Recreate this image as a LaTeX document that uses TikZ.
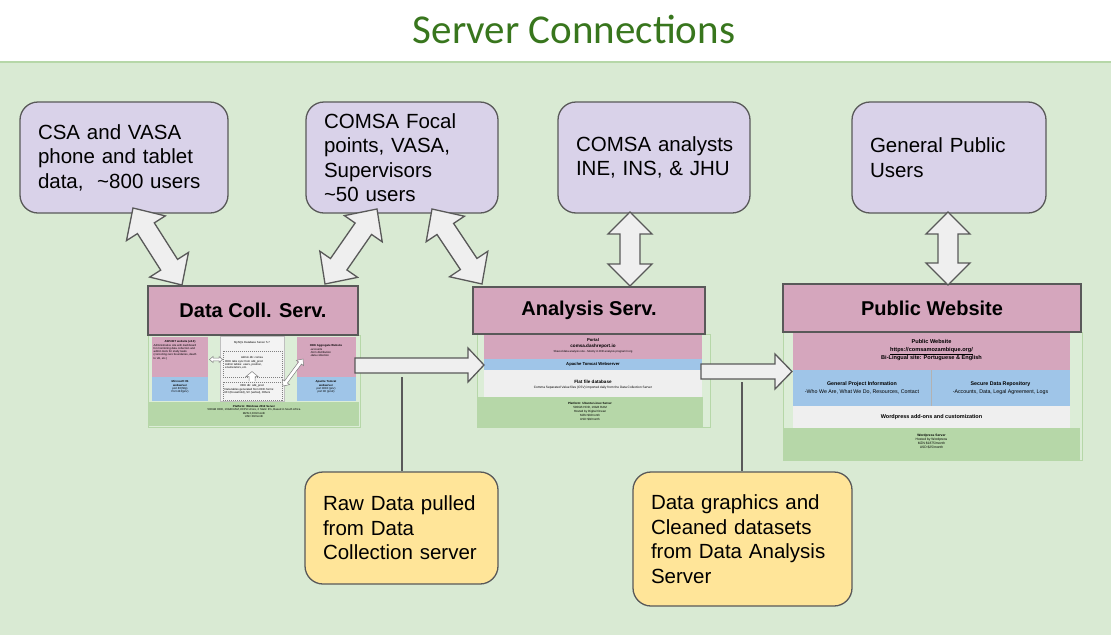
\documentclass[tikz,border=0pt]{standalone}
\usepackage{fontspec}
\setmainfont{Liberation Sans}
\newfontfamily\titlefont{Carlito}
\usetikzlibrary{calc}
\definecolor{bandgreen}{HTML}{D9EAD3}
\definecolor{bandline}{HTML}{B6D7A8}
\definecolor{titlegreen}{HTML}{38761D}
\definecolor{lav}{HTML}{D9D2E9}
\definecolor{edgegray}{HTML}{595959}
\definecolor{pinkbar}{HTML}{D5A6BD}
\definecolor{lightblue}{HTML}{9FC5E8}
\definecolor{lightgray}{HTML}{EFEFEF}
\definecolor{panelgray}{HTML}{F3F3F3}
\definecolor{midgreen}{HTML}{B6D7A8}
\definecolor{notey}{HTML}{FFE599}
\definecolor{framegreen}{HTML}{DCEDD7}
\newcommand\fs[2]{\fontsize{#1}{#2}\selectfont}
\newcommand\rbox[7]{%
 \pgfmathsetmacro\bw{#4-#2}\pgfmathsetmacro\bh{#5-#3}\pgfmathsetmacro\bt{#4-#2-36}%
 \pgfmathsetmacro\cx{(#2+#4)/2}\pgfmathsetmacro\cy{(#3+#5)/2}%
 \node[#6, minimum width=\bw pt, minimum height=\bh pt, text width=\bt pt] (#1) at (\cx,\cy) {#7};}
\newcommand\blk[7]{%
 \pgfmathsetmacro\bw{#4-#2}\pgfmathsetmacro\bh{#5-#3}%
 \pgfmathsetmacro\cx{(#2+#4)/2}\pgfmathsetmacro\cy{(#3+#5)/2}%
 \node[inner sep=0pt, outer sep=0pt, minimum width=\bw pt, minimum height=\bh pt, align=center, #6] (#1) at (\cx,\cy) {#7};}
\newcommand\dblarrow[8][]{%
 \pgfmathsetmacro\dbang{atan2(-(#5-#3),#4-#2)}%
 \pgfmathsetmacro\dblen{veclen(#4-#2,#5-#3)}%
 \begin{scope}[shift={(#2,#3)},rotate=\dbang]
 \draw[blockarr,#1] (0pt,0pt) -- (#7pt,#6pt) -- (#7pt,#8pt) -- (\dblen pt-#7pt,#8pt) -- (\dblen pt-#7pt,#6pt) -- (\dblen pt,0pt) -- (\dblen pt-#7pt,-#6pt) -- (\dblen pt-#7pt,-#8pt) -- (#7pt,-#8pt) -- (#7pt,-#6pt) -- cycle;
 \end{scope}}
\newcommand\oneline[1]{\mbox{#1}}
\hbadness=10000 \hfuzz=200pt
\begin{document}
\begin{tikzpicture}[x=1pt,y=-1pt,
  userbox/.style={draw=edgegray, line width=1.3pt, fill=lav, rounded corners=18pt, align=left, inner xsep=18pt, inner ysep=0pt, font=\fs{20.5}{24.5}},
  notebox/.style={userbox, fill=notey},
  titlebar/.style={draw=edgegray, line width=1.8pt, fill=pinkbar, font=\fs{20}{24}\bfseries},
  frame/.style={fill=framegreen, draw=bandline, line width=0.6pt},
  blockarr/.style={draw=edgegray, fill=lightgray, line width=1.3pt, line join=miter},
  smallarr/.style={draw=gray, fill=white, line width=0.5pt},
  link/.style={draw=edgegray, line width=1.4pt},
  tiny/.style={inner sep=0pt, font=\fs{2.8}{3.2}},
  dashbox/.style={draw=gray, dash pattern=on 1pt off 1pt, line width=0.3pt}]
\useasboundingbox (0,0) rectangle (1111,635);
\fill[white] (0,0) rectangle (1111,635);
\fill[bandgreen] (0,62) rectangle (1111,635);
\draw[bandline, line width=1.5pt] (0,62) -- (1111,62);
\node[text=titlegreen, font=\titlefont\fs{41}{41}] (title) at (574,29) {Server Connections};

% user boxes
\rbox{u1}{20}{102}{228}{213}{userbox}{\oneline{CSA and VASA}\\\oneline{phone and tablet}\\\oneline{data,\ \ \textasciitilde800 users}}
\rbox{u2}{306}{102}{498}{213}{userbox}{\oneline{COMSA Focal}\\\oneline{points, VASA,}\\\oneline{Supervisors}\\\oneline{\textasciitilde50 users}}
\rbox{u3}{558}{102}{750}{213}{userbox}{\oneline{COMSA analysts}\\\oneline{INE, INS, \& JHU}}
\rbox{u4}{852}{102}{1046}{213}{userbox}{\oneline{General Public}\\\oneline{Users}}

% notes
\rbox{n1}{305}{472}{498}{584}{notebox}{\oneline{Raw Data pulled}\\\oneline{from Data}\\\oneline{Collection server}}
\rbox{n2}{633}{472}{852}{606}{notebox}{\oneline{Data graphics and}\\\oneline{Cleaned datasets}\\\oneline{from Data Analysis}\\\oneline{Server}}

% ===== Data Collection Server =====
\blk{dcf}{148}{335}{360}{427}{frame}{}
\blk{dcpk}{152}{337}{208}{377}{fill=pinkbar}{}
\blk{dcbl}{152}{377}{208}{401}{fill=lightblue}{}
\blk{dcmy}{220}{336}{284}{401}{fill=panelgray, draw=gray!50, line width=0.4pt}{}
\blk{dcpk2}{297}{337}{356}{377}{fill=pinkbar}{}
\blk{dcbl2}{297}{377}{356}{401}{fill=lightblue}{}
\blk{dcgr}{149}{402}{359}{426}{fill=midgreen}{}
\blk{dcd1}{223}{351}{282}{377}{dashbox}{}
\blk{dcd2}{223}{382}{282}{400}{dashbox}{}
\node[titlebar, minimum width=210pt, minimum height=49pt] (dcs) at (253,310.5) {Data Coll. Serv.};

\node[tiny, align=center] (t1) at (180,342) {\textbf{ASP.NET website (v4.0)}};
\node[tiny, align=left, anchor=north west] (t2) at (153.5,344) {Administrative site with dashboard\\for monitoring data collection and\\admin tools for study tasks\\(correcting zero boundaries, death\\to VA, etc.)};
\node[tiny, align=center] (t3) at (180,387) {\textbf{Microsoft IIS}\\\textbf{webserver}\\port 80(http)\\Port 443(priv)};
\node[tiny, align=center] (t4) at (252,343) {MySQL Database Server 5.7};
\node[tiny, align=center] (t5) at (252,357.5) {Admin db: comsa};
\node[tiny, align=left, anchor=north west] (t6) at (225,360) {ODK tabs sync from odk\_prod\\Admin tables: users, position,\\enumerators, etc.};
\node[tiny, align=center] (t7) at (252,386) {ODK db: odk\_prod};
\node[tiny, align=left, anchor=north west] (t8) at (224.5,388.5) {Data tables generated from ODK forms:\\RH (Household), SV (verbal), Others};
\node[tiny, align=center] (t9) at (326,345.5) {\textbf{ODK Aggregate Website}};
\node[tiny, align=left, anchor=north west] (t10) at (310,348) {-accounts\\-form distribution\\-data collection};
\node[tiny, align=center] (t11) at (326,387) {\textbf{Apache Tomcat}\\\textbf{webserver}\\port 8080 (priv)\\port 80 (prod)};
\node[tiny, align=center] (t12) at (254,411.5) {\textbf{Platform: Windows 2012 Server}\\500GB HDD, 16GB RAM, 8CPU vCore, 2 Static IPs, Based in South Africa\\MZN 2,000/month\\USD 30/month};
\draw[smallarr] (249,381) -- (249,376.5) -- (246,376.5) -- (252,371.5) -- (258,376.5) -- (255,376.5) -- (255,381);
\dblarrow[smallarr]{209.5}{359.5}{222.5}{359.5}{3}{3.5}{1.3}
\dblarrow[smallarr]{283}{386}{303}{359}{4.5}{5}{1.8}

% ===== Analysis Server =====
\blk{af}{477}{334}{710}{427}{frame}{}
\blk{apk}{484}{334}{702}{359}{fill=pinkbar}{}
\blk{abl}{484}{359}{702}{370}{fill=lightblue}{}
\blk{agy}{484}{370}{702}{397}{fill=lightgray}{}
\blk{agr}{477}{397}{703}{427}{fill=midgreen}{}
\node[titlebar, minimum width=232pt, minimum height=47pt] (as) at (589,310.5) {Analysis Serv.};
\node[inner sep=0pt, font=\fs{4.2}{5}\bfseries] (a1) at (593,339.5) {Portal};
\node[inner sep=0pt, font=\fs{4.6}{5}\bfseries] (a2) at (593,346) {comsa.dashreport.io};
\node[tiny] (a3) at (593,351.5) {Shared data analysis site - Mostly in R/R analysis program/r.org};
\node[inner sep=0pt, font=\fs{4.2}{5}\bfseries] (a4) at (593,364.5) {Apache Tomcat Webserver};
\node[inner sep=0pt, font=\fs{4.6}{5}\bfseries] (a5) at (593,382) {Flat file database};
\node[inner sep=0pt, font=\fs{3.2}{4}] (a6) at (593,388) {Comma Separated Value files (CSV) imported daily from the Data Collection Server};
\node[inner sep=0pt, align=center, font=\fs{3}{4.2}] (a7) at (590,411.5) {\textbf{Platform: Ubuntu Linux Server}\\500GB HDD, 16GB RAM\\Hosted by Digital Ocean\\MZN \$0/month\\USD \$0/month};

% ===== Public Website =====
\blk{pf}{783}{332}{1082}{460}{frame}{}
\blk{ppk}{793}{332}{1070}{370}{fill=pinkbar}{}
\blk{pbl1}{793}{370}{931}{406}{fill=lightblue}{}
\blk{pbl2}{931}{370}{1070}{406}{fill=lightblue}{}
\draw[gray!60, line width=0.5pt] (pbl1.north east) -- (pbl1.south east);
\blk{pgy}{793}{406}{1070}{428}{fill=lightgray}{}
\blk{pgr}{783}{428}{1080}{460}{fill=midgreen}{}
\node[titlebar, minimum width=298pt, minimum height=48pt] (ps) at (932,308) {Public Website};
\node[inner sep=0pt, align=center, font=\fs{5.6}{7.6}\bfseries] (p1) at (931.5,350) {Public Website\\\underline{https://comsamozambique.org/}\\Bi-Lingual site: Portuguese \& English};
\node[inner sep=0pt, align=center, font=\fs{5.3}{7.6}] (p2) at (862,388) {\textbf{General Project Information}\\-Who We Are, What We Do, Resources, Contact};
\node[inner sep=0pt, align=center, font=\fs{5.3}{7.6}] (p3) at (1000.5,388) {\textbf{Secure Data Repository}\\-Accounts, Data, Legal Agreement, Logs};
\node[inner sep=0pt, font=\fs{5.5}{7}\bfseries] (p4) at (931.5,417) {Wordpress add-ons and customization};
\node[inner sep=0pt, align=center, font=\fs{3.3}{4.2}] (p5) at (931.5,441.5) {\textbf{Wordpress Server}\\Hosted by Wordpress\\MZN \$1875/month\\USD \$25/month};

% ===== block arrows between servers =====
\draw[blockarr] (355,358) -- (468,358) -- (468,348) -- (484,365) -- (468,382) -- (468,373) -- (355,373) -- cycle;
\draw[blockarr] (701,364) -- (775,364) -- (775,354) -- (792,371.5) -- (775,389) -- (775,379) -- (701,379) -- cycle;

% ===== double arrows users <-> servers =====
\dblarrow{133}{208}{182}{285}{23}{24}{10}
\dblarrow{377}{209}{325}{284}{23}{24}{10}
\dblarrow{432}{209}{482}{284}{23}{24}{10}
\dblarrow{630}{212}{630}{286}{22}{22}{10}
\dblarrow{948}{212}{948}{285}{22}{22}{10}

% ===== callout connectors =====
\coordinate (c1) at (402,377);
\coordinate (c2) at (742,382);
\draw[link] (c1) -- (c1 |- n1.north);
\draw[link] (c2) -- (c2 |- n2.north);
\end{tikzpicture}
\end{document}
